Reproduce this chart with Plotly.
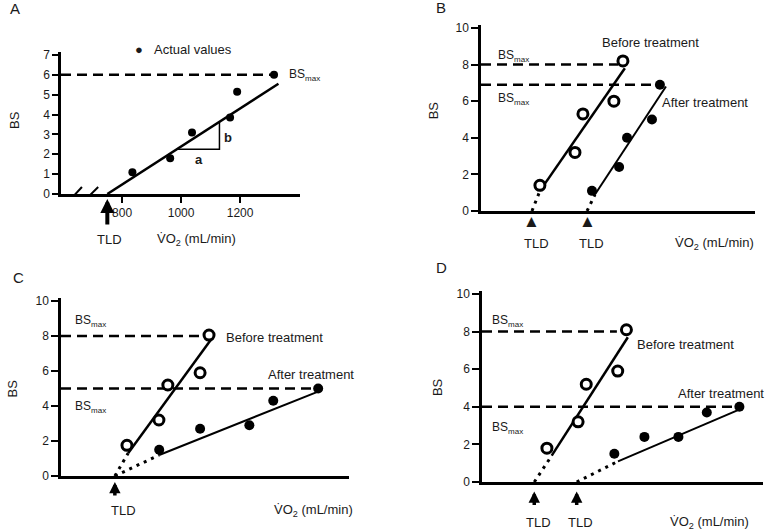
import plotly.graph_objects as go

# ---------------- data ----------------
# panel A (real units)
a_vo2 = [835, 963, 1037, 1166, 1190, 1315]
a_bs = [1.1, 1.8, 3.1, 3.85, 5.15, 6.0]
a_fit_x = [750, 1330]
a_fit_y = [0, 5.55]
a_tri_x = [985, 1130, 1130]
a_tri_y = [2.25, 2.25, 3.64]
a_tld = 750
a_bsmax = 6.0
a_xticks = [800, 1000, 1200]
a_yticks = [0, 1, 2, 3, 4, 5, 6, 7]

# panels B-D (schematic, arbitrary VO2 units 0-100)
bcd_yticks = [0, 2, 4, 6, 8, 10]

b_before_x = [21.5, 34.3, 37.2, 48.5, 51.8]
b_before_y = [1.4, 3.2, 5.3, 6.0, 8.2]
b_after_x = [40.5, 50.4, 53.3, 62.4, 65.3]
b_after_y = [1.1, 2.4, 4.0, 5.0, 6.9]
b_before_line_x = [18.6, 21.5, 52.5]
b_before_line_y = [0, 1.1, 7.8]
b_after_line_x = [38.7, 41.6, 67.5]
b_after_line_y = [0, 0.9, 6.8]
b_bsmax = [8.0, 6.9]
b_bsmax_end = [50, 64.6]
b_tld = [18.6, 38.7]

c_before_x = [22.9, 34.0, 37.1, 48.3, 51.4]
c_before_y = [1.75, 3.2, 5.2, 5.9, 8.05]
c_after_x = [34.1, 48.3, 65.4, 73.7, 89.3]
c_after_y = [1.5, 2.7, 2.9, 4.3, 5.0]
c_before_line_x = [18.7, 23.3, 52.1]
c_before_line_y = [0, 1.3, 7.8]
c_after_line_x = [18.7, 34.1, 89.7]
c_after_line_y = [0, 1.2, 4.85]
c_bsmax = [8.0, 5.0]
c_bsmax_end = [51, 89]
c_tld = [18.7]

d_before_x = [23.1, 34.2, 37.1, 48.3, 51.4]
d_before_y = [1.8, 3.2, 5.2, 5.9, 8.1]
d_after_x = [47.1, 57.8, 69.9, 80.0, 91.6]
d_after_y = [1.5, 2.4, 2.4, 3.7, 4.0]
d_before_line_x = [18.6, 24.8, 51.9]
d_before_line_y = [0, 1.4, 7.7]
d_after_line_x = [33.7, 48.4, 91.5]
d_after_line_y = [0, 1.1, 3.85]
d_bsmax = [8.0, 4.0]
d_bsmax_end = [48, 89]
d_tld = [18.6, 33.7]

FONT = "Liberation Sans, Arial, Helvetica, sans-serif"
INK = "#1a1a1a"
VO2 = "V\u0307O<sub>2</sub> (mL/min)"
BSMAX = "BS<sub><span style='font-size:8px'>max</span></sub>"
W, H = 770, 530

# pixel frame of each panel: (left, right, bottom, top) and axis ranges
frames = {
    "": dict(px=(61, 300), py=(194, 52), xr=[593, 1403], yr=[0, 7.15]),
    "2": dict(px=(481, 755), py=(211, 25), xr=[0, 100], yr=[0, 10.16]),
    "3": dict(px=(61, 349), py=(476, 298), xr=[0, 100], yr=[0, 10.17]),
    "4": dict(px=(482, 763), py=(482, 291), xr=[0, 100], yr=[0, 10.16]),
}


def to_paper(ax, x, y):
    f = frames[ax]
    x0, x1 = f["px"]
    b, t = f["py"]
    px = x0 + (x - f["xr"][0]) / (f["xr"][1] - f["xr"][0]) * (x1 - x0)
    py = b - (y - f["yr"][0]) / (f["yr"][1] - f["yr"][0]) * (b - t)
    return px / W, 1 - py / H


fig = go.Figure()
annotations = []
shapes = []


def text(ax, x, y, s, size=13, xanchor="center", **kw):
    px, py = to_paper(ax, x, y)
    annotations.append(dict(
        x=px, y=py, xref="paper", yref="paper", text=s, showarrow=False,
        xanchor=xanchor, yanchor="middle",
        font=dict(family=FONT, size=size, color=INK), **kw))


def up_arrow(ax, x, y, length, width, size):
    px, py = to_paper(ax, x, y)
    annotations.append(dict(
        x=px, y=py, xref="paper", yref="paper", ax=0, ay=length, text="",
        showarrow=True, arrowhead=2, arrowsize=size, arrowwidth=width,
        arrowcolor="black"))


def line(ax, xs, ys, width=2.5, dash="solid"):
    fig.add_trace(go.Scatter(
        x=xs, y=ys, mode="lines", xaxis="x" + ax, yaxis="y" + ax,
        line=dict(color="black", width=width, dash=dash),
        hoverinfo="skip", cliponaxis=False))


def compare_panel(ax, bx, by, fx, fy, blx, bly, flx, fly, bsmax, bsmax_end):
    for lvl, end in zip(bsmax, bsmax_end):
        line(ax, [0, end], [lvl, lvl], width=2.5, dash="10px,6px")
    line(ax, blx[:2], bly[:2], width=3, dash="3px,5px")
    line(ax, flx[:2], fly[:2], width=3, dash="3px,5px")
    line(ax, blx[1:], bly[1:], width=2.5)
    line(ax, flx[1:], fly[1:], width=2)
    fig.add_trace(go.Scatter(
        x=bx, y=by, mode="markers", xaxis="x" + ax, yaxis="y" + ax,
        marker=dict(size=10, color="white", line=dict(color="black", width=3)),
        cliponaxis=False))
    fig.add_trace(go.Scatter(
        x=fx, y=fy, mode="markers", xaxis="x" + ax, yaxis="y" + ax,
        marker=dict(size=10, color="black"), cliponaxis=False))


# ---------------- panel A ----------------
line("", [593, 1310], [a_bsmax, a_bsmax], width=2.5, dash="10px,6px")
line("", a_fit_x, a_fit_y, width=2.5)
line("", a_tri_x, a_tri_y, width=1.5)
fig.add_trace(go.Scatter(
    x=a_vo2, y=a_bs, mode="markers", xaxis="x", yaxis="y",
    marker=dict(size=8, color="black"), cliponaxis=False))
text("", 858, 7.3, "\u25CF", size=13)
text("", 902, 7.3, "Actual values", size=13, xanchor="left")
text("", 1359, 6.0, BSMAX, size=12, xanchor="left")
text("", 1061, 1.75, "<b>a</b>", size=13)
text("", 1158, 2.85, "<b>b</b>", size=13)
text("", 758, -2.27, "TLD")
text("", 1051, -2.27, VO2)
text("", 437, 3.73, "BS", textangle=-90)
up_arrow("", a_tld, -0.25, 27, 4, 0.7)
for x0, x1 in [(617, 664), (668, 719)]:
    shapes.append(dict(type="line", xref="x", yref="y", x0=x0, x1=x1,
                       y0=-0.4, y1=0.35, line=dict(color="black", width=2)))

# ---------------- panel B ----------------
compare_panel("2", b_before_x, b_before_y, b_after_x, b_after_y,
              b_before_line_x, b_before_line_y, b_after_line_x, b_after_line_y,
              b_bsmax, b_bsmax_end)
for t in b_tld:
    text("2", t, -0.6, "\u25B2", size=17)
    text("2", t + 1.5, -1.75, "TLD")
text("2", 5.5, 8.45, BSMAX, size=12, xanchor="left")
text("2", 5.5, 6.1, BSMAX, size=12, xanchor="left")
text("2", 61.7, 9.23, "Before treatment")
text("2", 81.8, 5.9, "After treatment")
text("2", 85.4, -1.75, VO2)
text("2", -17.5, 5.5, "BS", textangle=-90)

# ---------------- panel C ----------------
compare_panel("3", c_before_x, c_before_y, c_after_x, c_after_y,
              c_before_line_x, c_before_line_y, c_after_line_x, c_after_line_y,
              c_bsmax, c_bsmax_end)
for t in c_tld:
    up_arrow("3", t, -0.34, 15, 3.5, 0.65)
    text("3", t + 3, -1.95, "TLD")
text("3", 4.2, 8.85, BSMAX, size=12, xanchor="left")
text("3", 4.2, 3.95, BSMAX, size=12, xanchor="left")
text("3", 56.6, 7.9, "Before treatment", xanchor="left")
text("3", 71.2, 5.8, "After treatment", xanchor="left")
text("3", 87.5, -1.95, VO2)
text("3", -17, 5.0, "BS", textangle=-90)

# ---------------- panel D ----------------
compare_panel("4", d_before_x, d_before_y, d_after_x, d_after_y,
              d_before_line_x, d_before_line_y, d_after_line_x, d_after_line_y,
              d_bsmax, d_bsmax_end)
for t in d_tld:
    up_arrow("4", t, -0.5, 15, 3.5, 0.65)
    text("4", t + 1.4, -2.13, "TLD")
text("4", 2.8, 8.56, BSMAX, size=12, xanchor="left")
text("4", 2.8, 2.87, BSMAX, size=12, xanchor="left")
text("4", 54.4, 7.34, "Before treatment", xanchor="left")
text("4", 69.0, 4.73, "After treatment", xanchor="left")
text("4", 81.1, -2.13, VO2)
text("4", -16, 5.05, "BS", textangle=-90)

# panel letters
for lab, px, py in [("A", 15, 9), ("B", 441, 8), ("C", 18, 277), ("D", 441, 267)]:
    annotations.append(dict(x=px / W, y=1 - py / H, xref="paper", yref="paper",
                            text=lab, showarrow=False, xanchor="center",
                            yanchor="middle", font=dict(family=FONT, size=15, color=INK)))


def x_axis(ax, **kw):
    f = frames[ax]
    d = dict(showline=True, linecolor="black", linewidth=2.5, showgrid=False,
             zeroline=False, ticks="", showticklabels=False, fixedrange=True,
             automargin=False, domain=[f["px"][0] / W, f["px"][1] / W],
             range=f["xr"], anchor="y" + ax)
    d.update(kw)
    return d


def y_axis(ax, **kw):
    f = frames[ax]
    d = dict(showline=True, linecolor="black", linewidth=2.5, showgrid=False,
             zeroline=False, ticks="outside", tickwidth=2, ticklen=7,
             tickcolor="black", tickfont=dict(family=FONT, size=12, color=INK),
             fixedrange=True, automargin=False,
             domain=[1 - f["py"][0] / H, 1 - f["py"][1] / H],
             range=f["yr"], anchor="x" + ax, tickvals=bcd_yticks)
    d.update(kw)
    return d


fig.update_layout(
    width=W, height=H, autosize=False,
    margin=dict(l=0, r=0, t=0, b=0, pad=0),
    paper_bgcolor="white", plot_bgcolor="white",
    showlegend=False,
    xaxis=x_axis("", showticklabels=True, tickvals=a_xticks, ticks="outside",
                 tickcolor="black", tickwidth=2, ticklen=6,
                 tickfont=dict(family=FONT, size=12, color=INK)),
    yaxis=y_axis("", tickvals=a_yticks, ticklen=6),
    xaxis2=x_axis("2"),
    yaxis2=y_axis("2"),
    xaxis3=x_axis("3"),
    yaxis3=y_axis("3"),
    xaxis4=x_axis("4"),
    yaxis4=y_axis("4"),
    annotations=annotations,
    shapes=shapes,
)

fig.write_html("out.html", config={"displayModeBar": False},
               post_script="document.body.style.margin='0';")
